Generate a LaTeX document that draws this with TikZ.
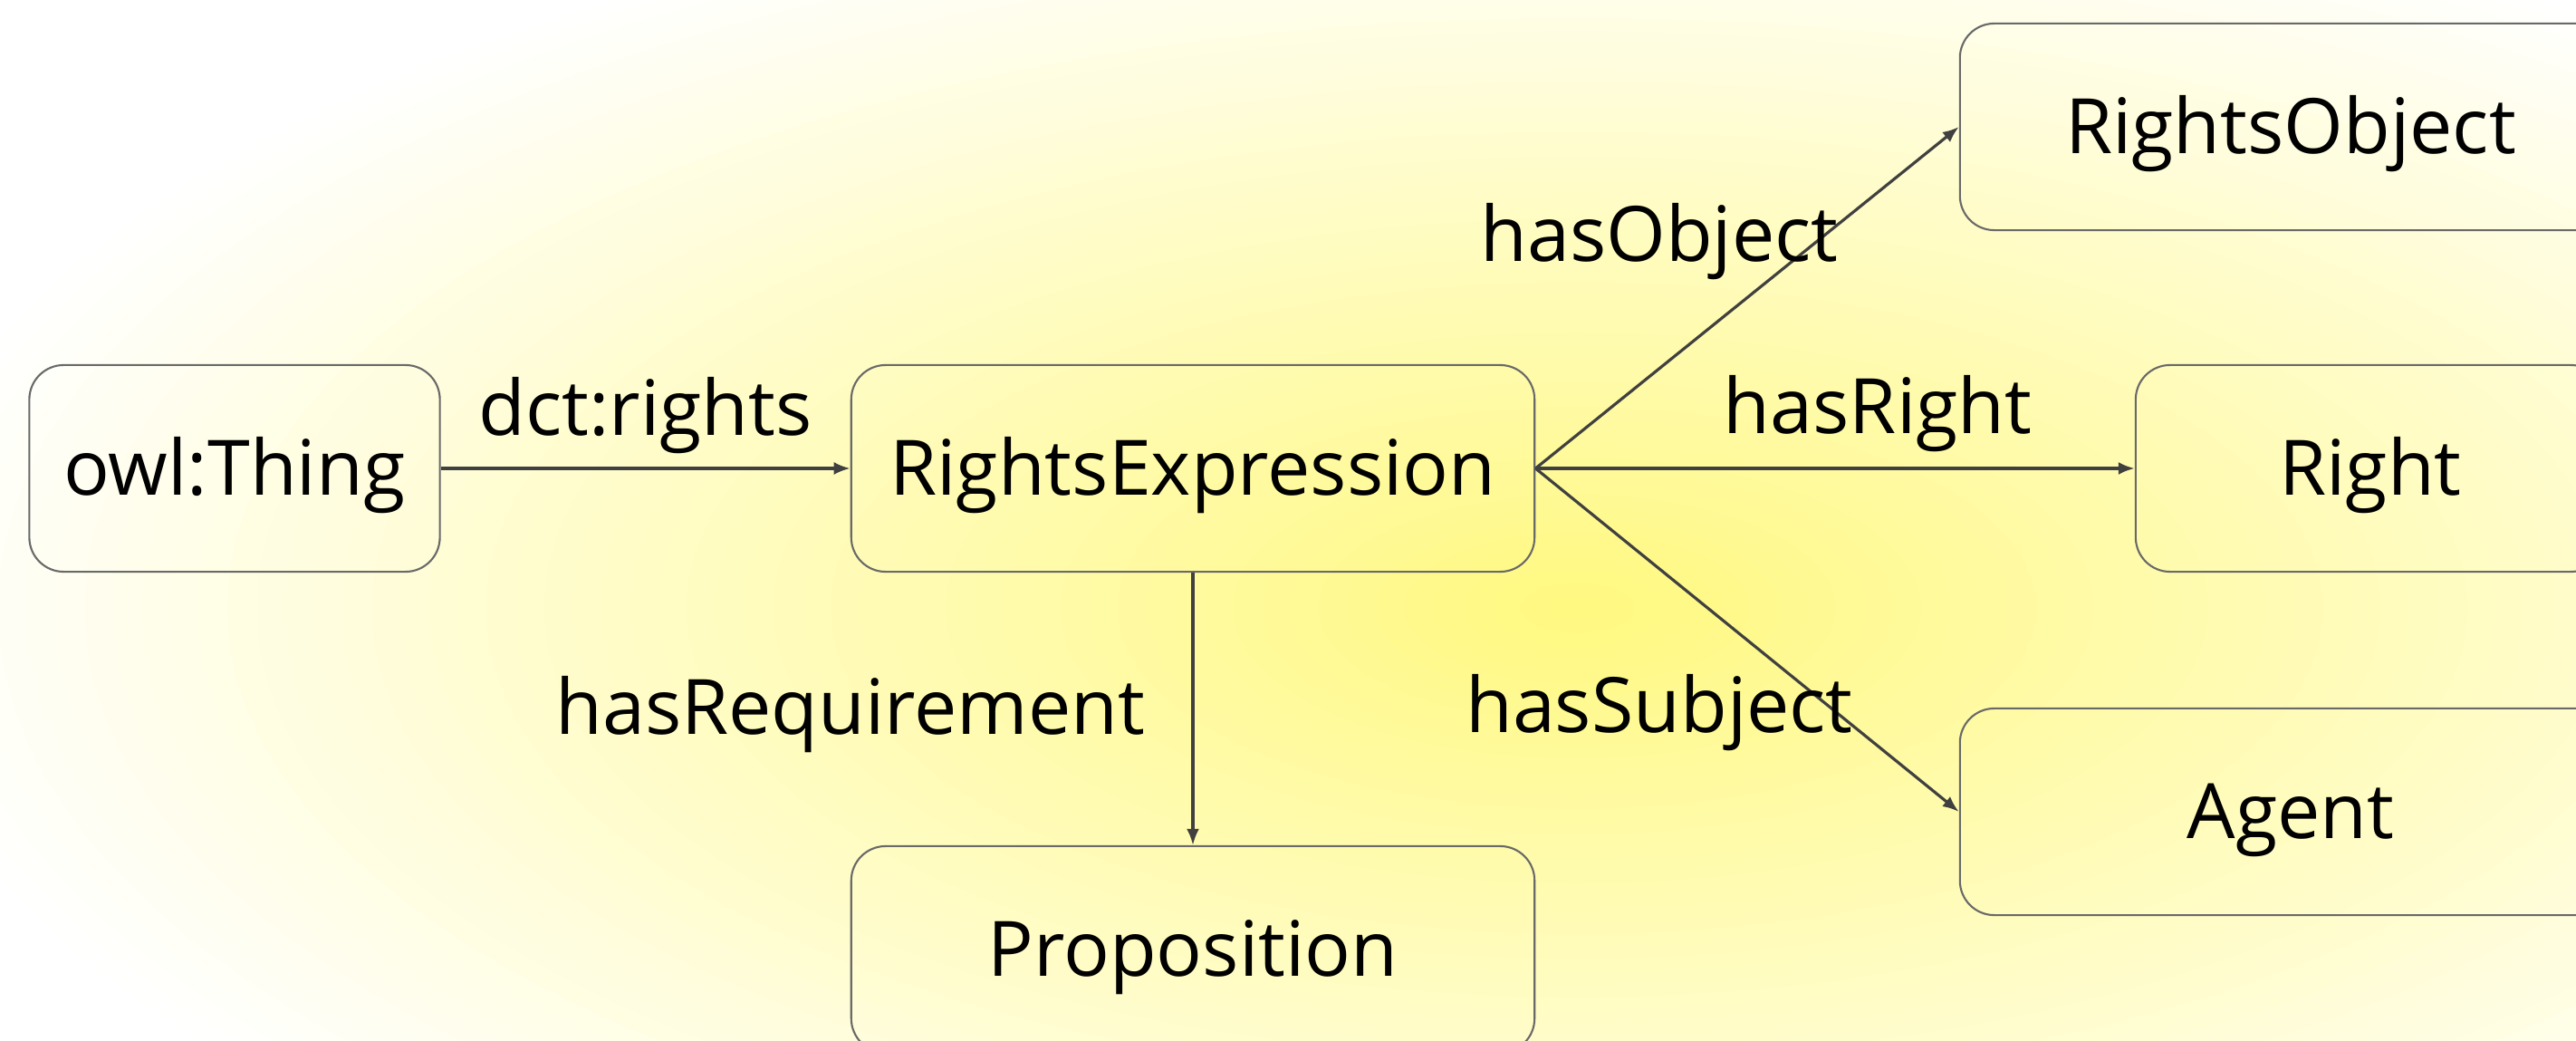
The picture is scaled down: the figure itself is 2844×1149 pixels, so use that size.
\documentclass[tikz,border=0pt]{standalone}
\usepackage{fontspec}
\setmainfont{Open Sans}
\usetikzlibrary{arrows.meta}
\definecolor{boxline}{RGB}{105,105,105}
\definecolor{arrowline}{RGB}{64,64,64}

\begin{document}
\begin{tikzpicture}[x=0.01cm, y=-0.01cm,
		every node/.style={font=\fontsize{24pt}{29pt}\selectfont},
		classbox/.style={draw=boxline, line width=0.6pt, rounded corners=0.38cm,
			minimum width=7.54cm, minimum height=2.28cm, inner sep=0pt,
			text height=23pt, text depth=6pt},
		conn/.style={every edge/.style={draw=arrowline, line width=0.9pt,
				-{Latex[length=0.18cm,width=0.14cm]}}},
		lbl/.style={inner sep=0pt}]
		\useasboundingbox (0,0) rectangle (2844,1149);
		\clip (0,0) rectangle (2844,1149);
		%background glow
		\fill[white] (0,0) rectangle (2844,1149);
		\foreach \i in {0,...,59}{
			\pgfmathsetmacro\t{1-\i/60}
			\pgfmathsetmacro\p{50*\i/60}
			\fill[yellow!\p!white] (1741,671) ellipse [x radius=19*\t cm, y radius=8.3*\t cm];
		}
		%classes
		\node[classbox, minimum width=4.53cm] (thing) at (259,517) {owl:Thing};
		\node[classbox] (expr) at (1317,517) {RightsExpression};
		\node[classbox] (prop) at (1317,1048) {Proposition};
		\node[classbox, minimum width=7.3cm] (obj) at (2529,140) {RightsObject};
		\node[classbox, minimum width=5.18cm] (right) at (2617,517) {Right};
		\node[classbox, minimum width=7.3cm] (agent) at (2529,896) {Agent};
		%properties
		\path[conn]
		(thing) edge node[lbl, midway, above=0.15cm]{dct:rights} (expr)
		(expr.east) edge node[lbl, midway, xshift=-0.97cm, yshift=0.62cm]{hasObject} (obj.west)
		(expr.east) edge node[lbl, midway, above=0.17cm, xshift=0.47cm]{hasRight} (right.west)
		(expr.east) edge node[lbl, midway, xshift=-0.97cm, yshift=-0.80cm]{hasSubject} (agent.west)
		(expr) edge node[lbl, midway, left=0.51cm, yshift=-0.06cm]{hasRequirement} (prop);
	\end{tikzpicture}
\end{document}
